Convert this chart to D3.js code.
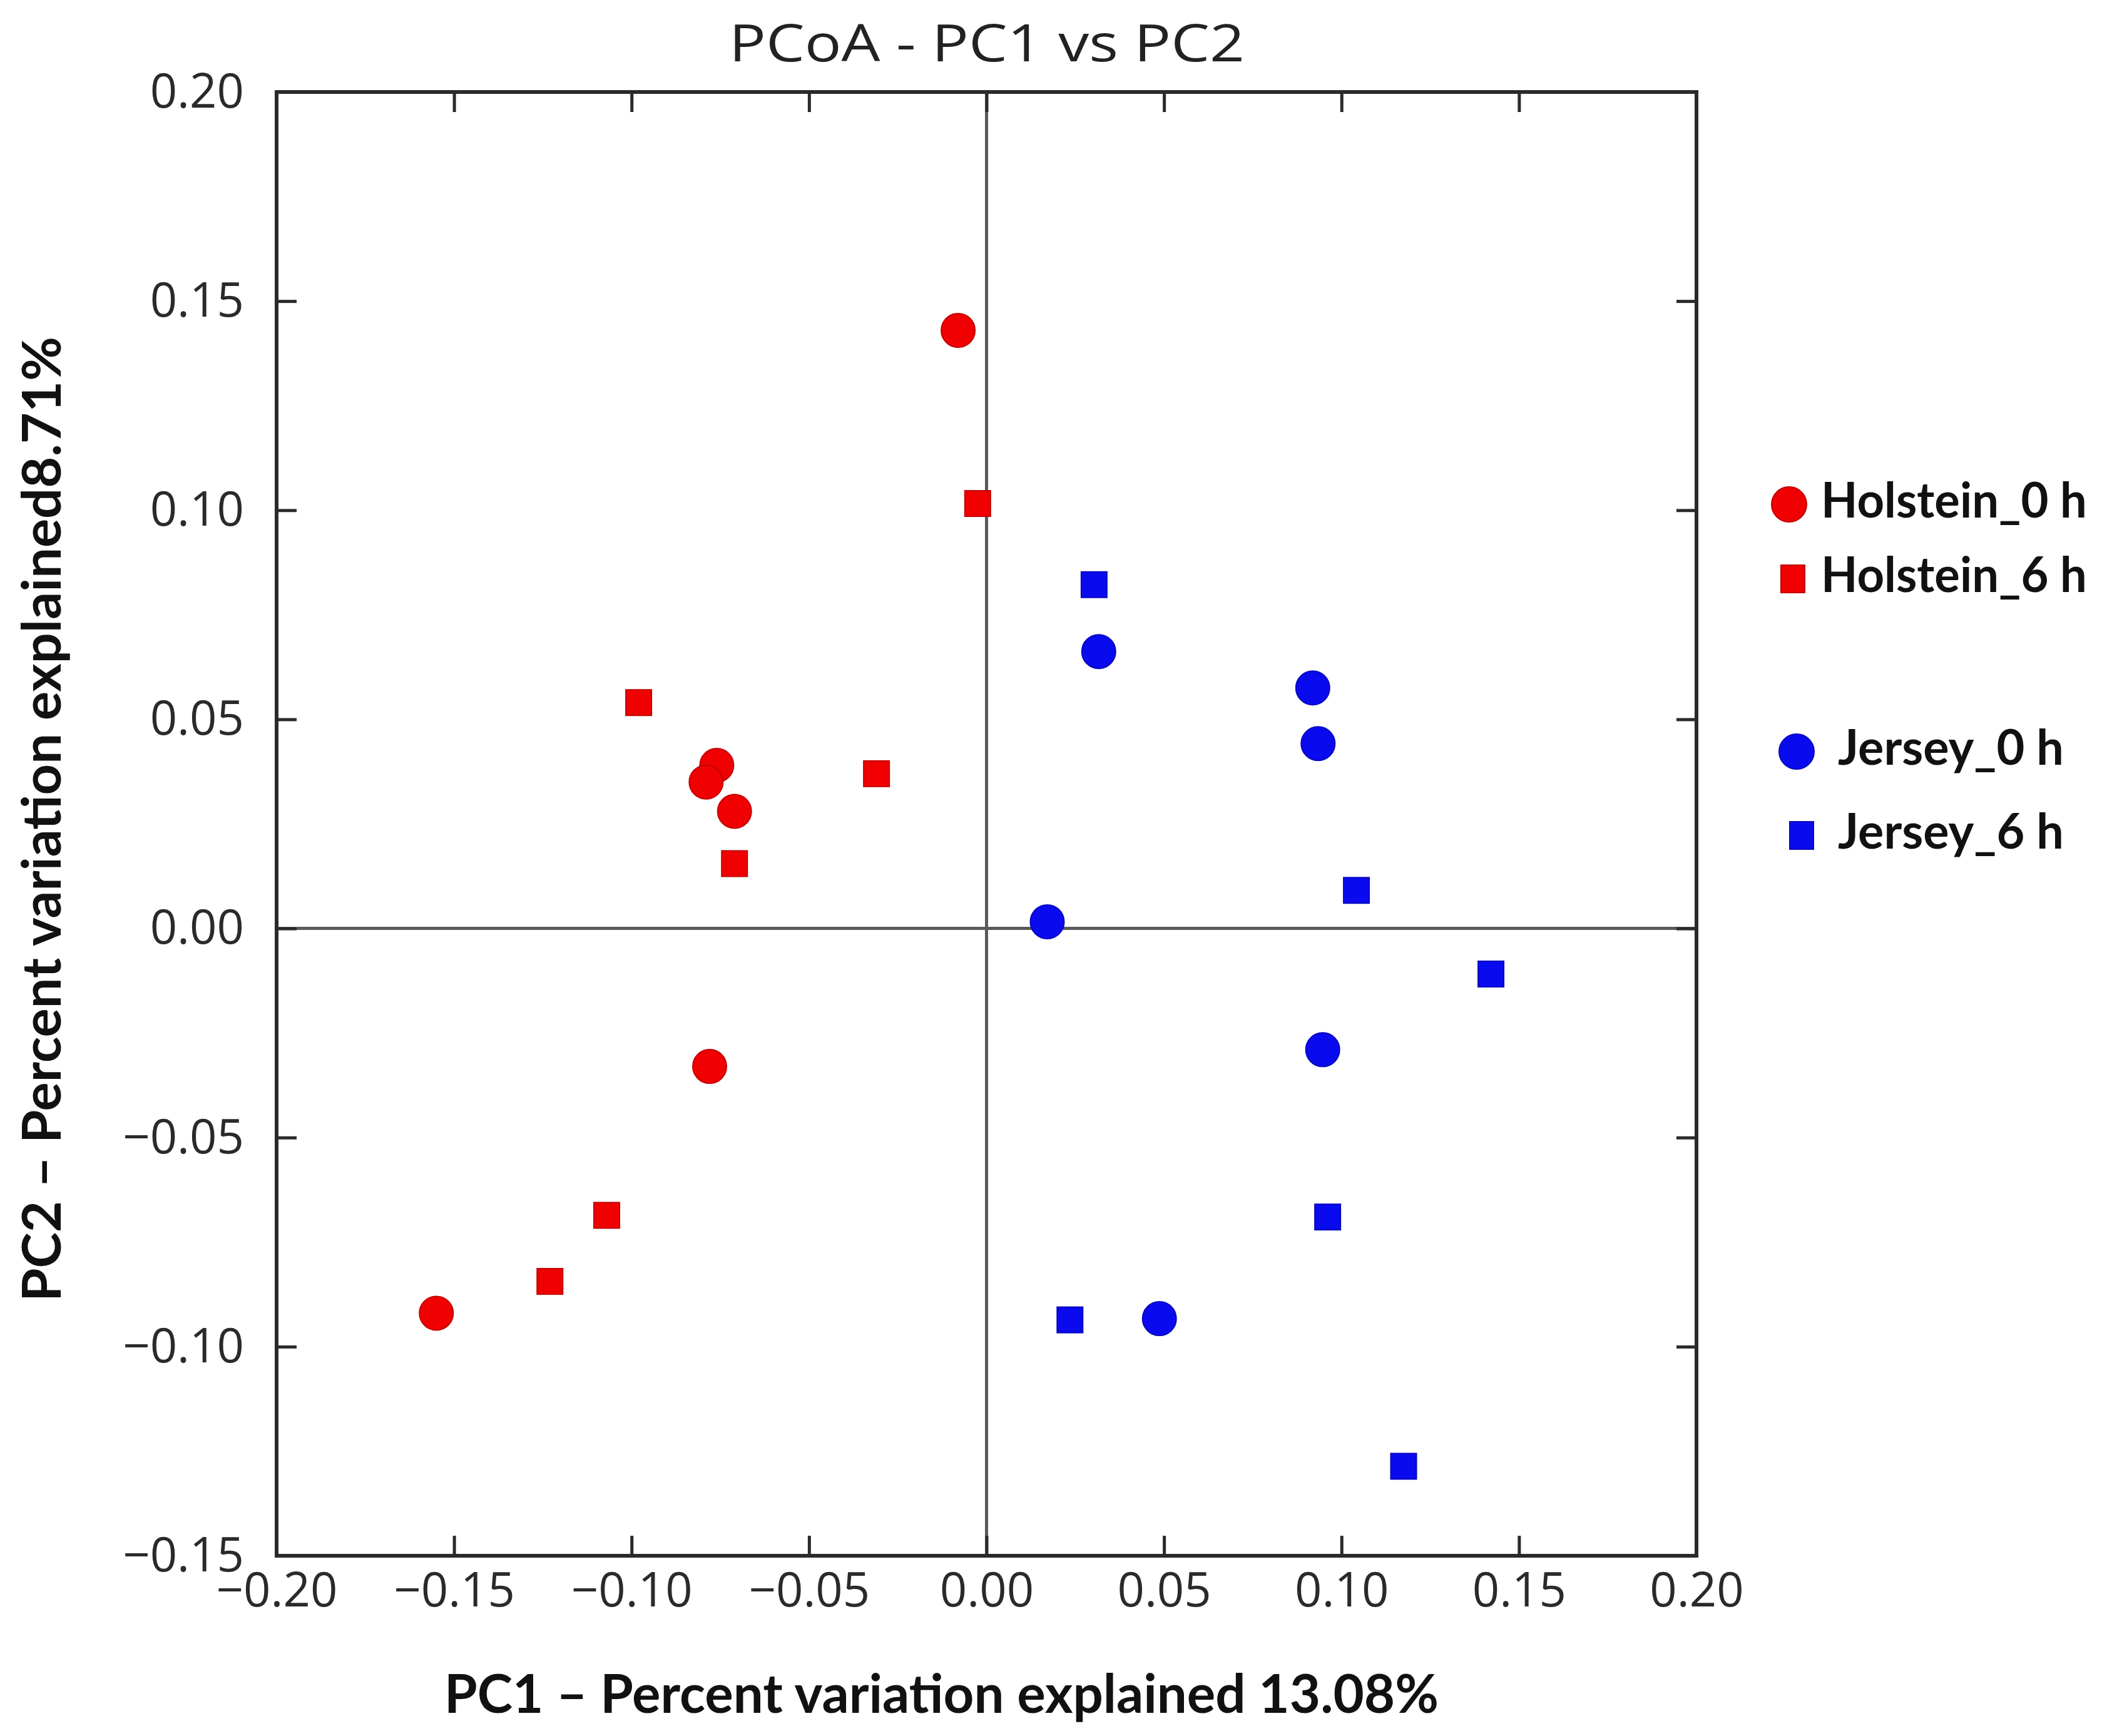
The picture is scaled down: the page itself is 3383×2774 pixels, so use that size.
<!DOCTYPE html>
<html>
<head>
<meta charset="utf-8">
<script src="https://cdn.jsdelivr.net/npm/d3@7"></script>
<style>
  html, body { margin: 0; padding: 0; background: #fff; }
  svg { display: block; }
</style>
</head>
<body>
<script>
// ---- data ----
const groups = ["Holstein_0 h", "Holstein_6 h", "Jersey_0 h", "Jersey_6 h"];
const groupShapes = ["circle", "square", "circle", "square"];
const groupColors = ["#f00000", "#f00000", "#0a0aee", "#0a0aee"];

const holstein0_pc1 = [-0.008, -0.076, -0.079, -0.071, -0.078, -0.155];
const holstein0_pc2 = [0.143, 0.039, 0.035, 0.028, -0.033, -0.092];
const holstein6_pc1 = [-0.0025, -0.098, -0.031, -0.071, -0.107, -0.123];
const holstein6_pc2 = [0.1016, 0.054, 0.037, 0.0155, -0.0686, -0.0844];
const jersey0_pc1 = [0.0316, 0.0919, 0.0934, 0.0171, 0.0947, 0.0487];
const jersey0_pc2 = [0.0662, 0.0575, 0.0442, 0.0016, -0.029, -0.0933];
const jersey6_pc1 = [0.0303, 0.1042, 0.1421, 0.0961, 0.0235, 0.1175];
const jersey6_pc2 = [0.0822, 0.0091, -0.0109, -0.069, -0.0936, -0.1286];

const xTicks = [-0.20, -0.15, -0.10, -0.05, 0.00, 0.05, 0.10, 0.15, 0.20];
const yTicks = [-0.15, -0.10, -0.05, 0.00, 0.05, 0.10, 0.15, 0.20];

const titleText = "PCoA - PC1 vs PC2";
const xLabelText = "PC1 \u2013 Percent variation explained 13.08%";
const yLabelText = "PC2 \u2013 Percent variation explained8.71%";

// ---- layout ----
const W = 3383, H = 2774;
const L = 442, R = 2711, T = 147, B = 2486;

const svg = d3.select("body").append("svg")
  .attr("width", W).attr("height", H)
  .style("background", "#fff");

const x = d3.scaleLinear().domain([-0.2, 0.2]).range([L, R]);
const y = d3.scaleLinear().domain([-0.15, 0.2]).range([B, T]);

const fmt = d3.format(".2f");
const tickLen = 32;

function styleAxis(g) {
  g.select(".domain").remove();
  g.selectAll(".tick line").attr("stroke", "#2a2a2a").attr("stroke-width", 5);
  g.selectAll(".tick text")
    .attr("fill", "#2a2a2a")
    .style("font-family", "'Open Sans', 'DejaVu Sans', sans-serif")
    .style("font-size", "76px");
}

// zero lines
svg.append("line")
  .attr("x1", L).attr("x2", R).attr("y1", y(0)).attr("y2", y(0))
  .attr("stroke", "#5a5a5a").attr("stroke-width", 5);
svg.append("line")
  .attr("x1", x(0)).attr("x2", x(0)).attr("y1", T).attr("y2", B)
  .attr("stroke", "#5a5a5a").attr("stroke-width", 5);

// axes (inward ticks)
svg.append("g").attr("transform", `translate(0,${B})`)
  .call(d3.axisBottom(x).tickValues(xTicks).tickFormat(fmt)
    .tickSizeInner(-tickLen).tickSizeOuter(0).tickPadding(27))
  .call(styleAxis);
svg.append("g").attr("transform", `translate(${L},0)`)
  .call(d3.axisLeft(y).tickValues(yTicks).tickFormat(fmt)
    .tickSizeInner(-tickLen).tickSizeOuter(0).tickPadding(52))
  .call(styleAxis);
svg.append("g").attr("transform", `translate(0,${T})`)
  .call(d3.axisTop(x).tickValues(xTicks).tickFormat("")
    .tickSizeInner(-tickLen).tickSizeOuter(0))
  .call(styleAxis);
svg.append("g").attr("transform", `translate(${R},0)`)
  .call(d3.axisRight(y).tickValues(yTicks).tickFormat("")
    .tickSizeInner(-tickLen).tickSizeOuter(0))
  .call(styleAxis);

// frame
svg.append("rect")
  .attr("x", L).attr("y", T).attr("width", R - L).attr("height", B - T)
  .attr("fill", "none").attr("stroke", "#2a2a2a").attr("stroke-width", 6);

// points
const series = [
  [holstein0_pc1, holstein0_pc2],
  [holstein6_pc1, holstein6_pc2],
  [jersey0_pc1, jersey0_pc2],
  [jersey6_pc1, jersey6_pc2]
];
const circleR = 27, sq = 41;
series.forEach((s, gi) => {
  const pts = s[0].map((v, i) => ({ pc1: v, pc2: s[1][i] }));
  const g = svg.append("g");
  if (groupShapes[gi] === "circle") {
    g.selectAll("circle").data(pts).join("circle")
      .attr("cx", d => x(d.pc1)).attr("cy", d => y(d.pc2))
      .attr("r", circleR)
      .attr("fill", groupColors[gi])
      .attr("stroke", d3.color(groupColors[gi]).darker(0.6))
      .attr("stroke-width", 2);
  } else {
    g.selectAll("rect").data(pts).join("rect")
      .attr("x", d => x(d.pc1) - sq / 2).attr("y", d => y(d.pc2) - sq / 2)
      .attr("width", sq).attr("height", sq)
      .attr("fill", groupColors[gi])
      .attr("stroke", d3.color(groupColors[gi]).darker(0.6))
      .attr("stroke-width", 2);
  }
});

// title
svg.append("text")
  .attr("x", 1577).attr("y", 98)
  .attr("text-anchor", "middle")
  .attr("fill", "#222")
  .style("font-family", "'Open Sans', 'DejaVu Sans', sans-serif")
  .style("font-size", "82px")
  .attr("textLength", 824).attr("lengthAdjust", "spacingAndGlyphs")
  .text(titleText);

// x label
svg.append("text")
  .attr("x", 710).attr("y", 2737)
  .attr("fill", "#111")
  .style("font-family", "Lato, 'Open Sans', sans-serif")
  .style("font-weight", "bold")
  .style("font-size", "86px")
  .attr("textLength", 1589).attr("lengthAdjust", "spacingAndGlyphs")
  .text(xLabelText);

// y label
svg.append("text")
  .attr("transform", "translate(97,2080) rotate(-90)")
  .attr("x", 0).attr("y", 0)
  .attr("fill", "#111")
  .style("font-family", "Lato, 'Open Sans', sans-serif")
  .style("font-weight", "bold")
  .style("font-size", "86px")
  .attr("textLength", 1542).attr("lengthAdjust", "spacingAndGlyphs")
  .text(yLabelText);

// legend
const legendRows = [
  { mx: 2859, my: 806, tx: 2910, tw: 425 },
  { mx: 2865, my: 925, tx: 2910, tw: 425 },
  { mx: 2871, my: 1201, tx: 2937, tw: 361 },
  { mx: 2879, my: 1335, tx: 2937, tw: 361 }
];
groups.forEach((name, gi) => {
  const r = legendRows[gi];
  const g = svg.append("g");
  if (groupShapes[gi] === "circle") {
    g.append("circle").attr("cx", r.mx).attr("cy", r.my).attr("r", 28)
      .attr("fill", groupColors[gi])
      .attr("stroke", d3.color(groupColors[gi]).darker(0.6)).attr("stroke-width", 2);
  } else {
    g.append("rect").attr("x", r.mx - 19).attr("y", r.my - 22)
      .attr("width", 38).attr("height", 44)
      .attr("fill", groupColors[gi])
      .attr("stroke", d3.color(groupColors[gi]).darker(0.6)).attr("stroke-width", 2);
  }
  g.append("text")
    .attr("x", r.tx).attr("y", r.my + 21)
    .attr("fill", "#111")
    .style("font-family", "Lato, 'Open Sans', sans-serif")
    .style("font-weight", "bold")
    .style("font-size", "78px")
    .attr("textLength", r.tw).attr("lengthAdjust", "spacingAndGlyphs")
    .text(name);
});
</script>
</body>
</html>
